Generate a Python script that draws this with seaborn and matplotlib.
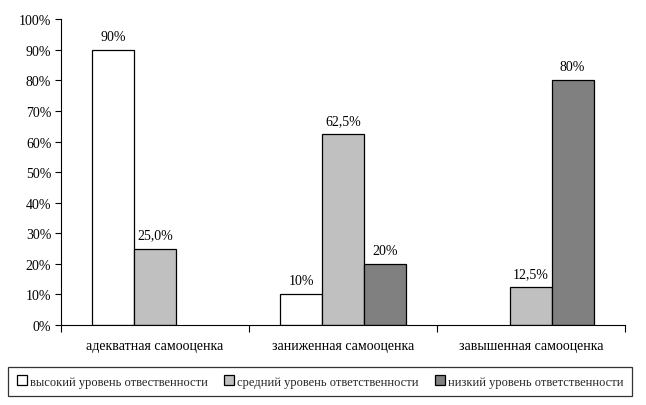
import matplotlib
matplotlib.use("Agg")
import matplotlib.pyplot as plt
import seaborn as sns
import numpy as np
import pandas as pd
from matplotlib.ticker import FixedLocator, PercentFormatter

categories = ["адекватная самооценка", "заниженная самооценка", "завышенная самооценка"]
series = ["высокий уровень отвественности", "средний уровень ответственности", "низкий уровень ответственности"]
high_vals = [90.0, 10.0, np.nan]
mid_vals = [25.0, 62.5, 12.5]
low_vals = [np.nan, 20.0, 80.0]
high_labels = ["90%", "10%", ""]
mid_labels = ["25,0%", "62,5%", "12,5%"]
low_labels = ["", "20%", "80%"]
yticks = [0, 10, 20, 30, 40, 50, 60, 70, 80, 90, 100]
colors = ["#FFFFFF", "#C0C0C0", "#808080"]

sns.set_theme(style="white")
plt.rcParams['font.family'] = ['Liberation Serif', 'DejaVu Serif']

rows = []
for s, vals in zip(series, [high_vals, mid_vals, low_vals]):
    for c, v in zip(categories, vals):
        rows.append({"cat": c, "series": s, "value": v})
df = pd.DataFrame(rows)

fig = plt.figure(figsize=(6.46, 4.06), dpi=100)
ax = fig.add_axes([61/646, 1-326/406, (625-61)/646, (326-20.3)/406])

sns.barplot(data=df, x="cat", y="value", hue="series", order=categories,
            hue_order=series, palette=colors, width=0.665, edgecolor="black",
            linewidth=0.9, saturation=1, ax=ax, legend=True)

all_labels = [high_labels, mid_labels, low_labels]
all_vals = [high_vals, mid_vals, low_vals]
for cont, labs, vals in zip(ax.containers, all_labels, all_vals):
    present = [l for l, v in zip(labs, vals) if not np.isnan(v)]
    if len(present) == len(cont):
        ax.bar_label(cont, labels=present, padding=5, fontsize=10, color="black")

ax.set_ylim(0, 100)
ax.set_xlim(-0.5, 2.5)
ax.set_yticks(yticks)
ax.yaxis.set_major_formatter(PercentFormatter(decimals=0))
ax.tick_params(axis="y", which="major", length=4, width=0.8, color="black",
               direction="out", left=True, labelsize=10, pad=3, labelcolor="black")
ax.xaxis.set_minor_locator(FixedLocator([-0.5, 0.5, 1.5, 2.5]))
ax.tick_params(axis="x", which="major", length=0, labelsize=10, pad=10, labelcolor="black")
ax.tick_params(axis="x", which="minor", length=5, width=0.8, color="black",
               direction="out", bottom=True)
ax.set_xlabel("")
ax.set_ylabel("")
for side in ["top", "right"]:
    ax.spines[side].set_visible(False)
for side in ["left", "bottom"]:
    ax.spines[side].set_color("black")
    ax.spines[side].set_linewidth(0.8)

handles, labels = ax.get_legend_handles_labels()
ax.get_legend().remove()
leg = fig.legend(handles, labels, loc="center", ncol=3,
                 bbox_to_anchor=(320/646, 1-382.5/406), fontsize=9,
                 frameon=True, fancybox=False, edgecolor="black",
                 handlelength=0.8, handleheight=0.8, handletextpad=0.25,
                 columnspacing=1.3, borderpad=0.7, borderaxespad=0)
leg.get_frame().set_linewidth(0.9)

fig.savefig("out.png", dpi=100)
